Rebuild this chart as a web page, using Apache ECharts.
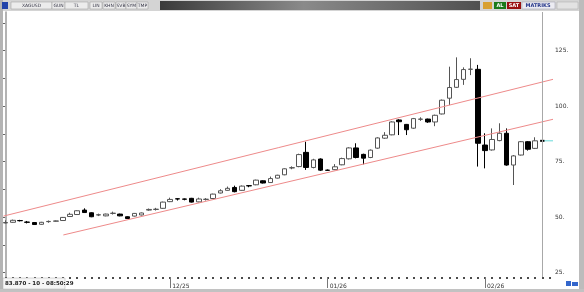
<!DOCTYPE html>
<html><head><meta charset="utf-8">
<script src="https://cdn.jsdelivr.net/npm/echarts@6/dist/echarts.min.js"></script>
<style>html,body{margin:0;padding:0;background:#fff;overflow:hidden}#c{width:584px;height:292px}</style>
</head><body><div id="c"></div>
<script>
const dates = [
 '2025-10-29','2025-10-30','2025-10-31',
 '2025-11-03','2025-11-04','2025-11-05','2025-11-06','2025-11-07','2025-11-10','2025-11-11','2025-11-12','2025-11-13','2025-11-14',
 '2025-11-17','2025-11-18','2025-11-19','2025-11-20','2025-11-21','2025-11-24','2025-11-25','2025-11-26','2025-11-27','2025-11-28',
 '2025-12-01','2025-12-02','2025-12-03','2025-12-04','2025-12-05','2025-12-08','2025-12-09','2025-12-10','2025-12-11','2025-12-12',
 '2025-12-15','2025-12-16','2025-12-17','2025-12-18','2025-12-19','2025-12-22','2025-12-23','2025-12-24','2025-12-26','2025-12-29',
 '2025-12-30','2025-12-31',
 '2026-01-01','2026-01-02','2026-01-05','2026-01-06','2026-01-07','2026-01-08','2026-01-09','2026-01-12','2026-01-13','2026-01-14',
 '2026-01-15','2026-01-16','2026-01-19','2026-01-20','2026-01-21','2026-01-22','2026-01-23','2026-01-26','2026-01-27','2026-01-28',
 '2026-01-29','2026-01-30',
 '2026-02-02','2026-02-03','2026-02-04','2026-02-05','2026-02-06','2026-02-09','2026-02-10','2026-02-11','2026-02-12','2026-02-13'
];
const openV  = [47.4,47.7,48.5,47.8,47.6,46.8,48.0,48.2,48.5,50.3,51.2,53.2,52.0,51.0,50.6,51.7,51.4,50.2,50.5,51.0,
                53.2,53.5,54.0,57.0,58.3,58.2,58.5,56.9,58.0,58.4,60.9,62.1,63.4,62.1,64.2,64.6,66.4,65.6,67.6,69.1,
                72.2,72.8,79.2,72.4,76.2,71.2,71.4,73.6,76.3,81.2,78.3,76.9,81.1,85.6,87.1,93.8,91.8,90.1,94.1,94.2,
                92.9,96.5,103.6,108.5,112.1,116.6,116.6,82.5,80.3,84.5,87.8,73.5,78.0,84.0,81.0];
const closeV = [47.6,48.6,48.4,47.7,46.7,47.7,48.1,48.3,49.9,51.3,52.9,52.1,50.2,51.1,51.4,51.8,50.6,49.4,51.7,51.9,
                53.5,53.6,56.8,58.0,58.2,58.1,56.8,58.2,58.1,60.4,61.9,63.0,61.5,64.0,64.1,66.7,65.4,67.4,68.9,71.8,
                72.3,78.2,72.4,75.8,71.2,71.1,72.7,76.4,81.2,76.9,76.6,80.2,85.7,86.9,92.9,93.0,89.4,94.4,94.2,92.9,
                95.9,102.7,108.4,112.0,116.5,116.7,83.3,80.0,85.0,87.8,73.5,77.6,84.0,80.6,84.4];
const lowV   = [47.2,47.5,48.1,47.2,46.5,46.6,47.5,48.0,48.3,50.1,51.0,51.9,50.0,50.5,50.4,51.2,50.4,49.2,50.3,50.8,
                52.9,53.0,53.8,56.8,57.5,57.6,56.6,56.7,57.5,58.2,60.7,61.9,61.2,61.9,63.5,64.4,65.2,65.4,67.4,68.9,
                71.6,72.5,71.3,72.0,70.8,70.9,71.2,73.4,76.0,76.5,73.8,76.6,80.8,85.3,86.9,87.0,87.0,89.8,93.4,92.5,
                91.0,96.3,100.5,108.2,109.6,114.0,72.8,72.0,80.0,84.2,73.2,64.5,77.8,80.0,80.7];
const highV  = [48.6,48.9,48.8,48.3,47.8,47.9,48.5,48.5,50.1,52.0,53.1,54.0,52.2,51.6,51.6,52.5,51.6,50.4,51.9,52.1,
                53.9,54.2,57.0,58.8,58.5,58.4,58.7,58.8,58.6,60.6,62.6,63.8,64.2,64.3,64.5,66.9,66.6,68.3,69.1,72.0,
                72.9,78.6,84.0,76.3,76.5,71.5,73.9,76.8,81.5,83.3,78.6,80.5,86.0,88.3,93.2,94.1,92.0,94.7,95.0,94.4,
                96.2,103.0,117.8,122.0,117.5,121.6,118.6,87.8,90.0,92.3,90.0,78.0,84.3,84.3,86.0];
const upperChannel = [[-0.3, 50.5], [76.5, 112.1]];
const lowerChannel = [[8.06, 42.0], [76.5, 94.1]];
const lastPrice = 84.4;
const infoText = '83.870 - 10 - 08:50:29';
const toolbarItems = [['XAGUSD',11,41],['GUN',52,13],['TL',65,23],['LIN',90,12],['KHN',103,12],['SVB',116,10],['SYM',126,11],['TMP',137,11]];

const candles = openV.map((o, i) => [o, closeV[i], lowV[i], highV[i]]);
const isMonthStart = (idx, val) => idx > 0 && String(val).slice(5, 7) !== dates[idx - 1].slice(5, 7);

const FONT = 'DejaVu Sans';
const graphic = [
  {type:'rect', shape:{x:0,y:0,width:584,height:11}, style:{fill:'#d4d4d4'}, z:100},
  {type:'rect', shape:{x:2,y:2,width:6,height:7}, style:{fill:'#2244aa'}, z:101},
  {type:'rect', shape:{x:160,y:1,width:320,height:9}, style:{fill:new echarts.graphic.LinearGradient(0,0,1,0,[{offset:0,color:'#3a3a3a'},{offset:0.45,color:'#8a8a8a'},{offset:1,color:'#505050'}])}, z:101},
  {type:'rect', shape:{x:483,y:2,width:9,height:7}, style:{fill:'#d8a030'}, z:101},
  {type:'rect', shape:{x:494,y:2,width:12,height:7}, style:{fill:'#1a7a1a'}, z:101},
  {type:'text', style:{x:500,y:5.5,text:'AL',fill:'#fff',font:'bold 5px '+FONT,align:'center',verticalAlign:'middle'}, z:102},
  {type:'rect', shape:{x:507,y:2,width:14,height:7}, style:{fill:'#9a1010'}, z:101},
  {type:'text', style:{x:514,y:5.5,text:'SAT',fill:'#fff',font:'bold 5px '+FONT,align:'center',verticalAlign:'middle'}, z:102},
  {type:'rect', shape:{x:522,y:2,width:33,height:7}, style:{fill:'#ececf2',stroke:'#9a9aa8',lineWidth:0.5}, z:101},
  {type:'text', style:{x:538,y:5.5,text:'MATRIKS',fill:'#223388',font:'bold 5px '+FONT,align:'center',verticalAlign:'middle'}, z:102},
  {type:'rect', shape:{x:557,y:2,width:21,height:7}, style:{fill:'#e2e2e2',stroke:'#aaa',lineWidth:0.5}, z:101},
  {type:'rect', shape:{x:0,y:0,width:3,height:292}, style:{fill:'#b4b4b4'}, z:100},
  {type:'rect', shape:{x:579,y:0,width:5,height:292}, style:{fill:'#bcbcbc'}, z:100},
  {type:'rect', shape:{x:0,y:289,width:584,height:3}, style:{fill:'#c2c2c2'}, z:100},
  {type:'rect', shape:{x:3,y:278,width:62,height:11}, style:{fill:'#f6f6f6',stroke:'#b0b0b0',lineWidth:0.5}, z:100},
  {type:'text', style:{x:5,y:283.5,text:infoText,fill:'#222',font:'bold 5.5px '+FONT,verticalAlign:'middle'}, z:101},
  {type:'rect', shape:{x:566,y:281,width:5,height:5}, style:{fill:'#3366cc'}, z:101},
  {type:'rect', shape:{x:572,y:282,width:6,height:4}, style:{fill:'#3366cc'}, z:101}
];
toolbarItems.forEach(([t, x, w]) => {
  graphic.push({type:'rect', shape:{x:x,y:2,width:w,height:7}, style:{fill:'#ececec',stroke:'#9a9a9a',lineWidth:0.5}, z:101});
  graphic.push({type:'text', style:{x:x + w/2,y:5.5,text:t,fill:'#334',font:'4.5px '+FONT,align:'center',verticalAlign:'middle'}, z:102});
});

const chart = echarts.init(document.getElementById('c'), null, {renderer:'canvas'});
chart.setOption({
  animation: false,
  backgroundColor: '#ffffff',
  grid: [
    {left: 2.1, right: 31, top: 12, bottom: 15, outerBoundsMode: 'none', containLabel: false},
    {left: 2.1, right: 31, top: 22.95, bottom: 19.3, outerBoundsMode: 'none', containLabel: false}
  ],
  xAxis: [
    {type:'category', gridIndex:0, data:dates, boundaryGap:true, position:'bottom',
     axisLine:{show:false}, axisLabel:{show:false}, splitLine:{show:false},
     axisTick:{show:true, interval:0, alignWithLabel:true, length:2, lineStyle:{color:'#111', width:1.5}}},
    {type:'value', gridIndex:0, min:-0.5, max:76.5, show:false, position:'top'},
    {type:'category', gridIndex:0, data:dates, boundaryGap:true, position:'bottom',
     axisLine:{show:false}, splitLine:{show:false},
     axisTick:{show:true, interval:isMonthStart, alignWithLabel:true, length:11, lineStyle:{color:'#777', width:1}},
     axisLabel:{show:true, interval:isMonthStart, margin:6, align:'left', padding:[0,0,0,2],
       fontSize:6, fontFamily:FONT, color:'#333',
       formatter: v => v.slice(5,7) + '/' + v.slice(2,4)}},
    {type:'value', gridIndex:1, show:false}
  ],
  yAxis: [
    {type:'value', gridIndex:0, position:'right', min:23.06, max:142.43, scale:true,
     axisLine:{show:true, lineStyle:{color:'#9a9a9a', width:1.5}},
     axisTick:{show:false}, axisLabel:{show:false}, splitLine:{show:false}},
    {type:'value', gridIndex:1, position:'right', min:25, max:137.5, interval:12.5,
     axisLine:{show:false}, splitLine:{show:false},
     axisTick:{show:true, length:3, lineStyle:{color:'#666', width:1}},
     axisLabel:{show:true, margin:2, fontSize:6, fontFamily:FONT, color:'#333',
       formatter: v => (v % 25 === 0 && v <= 125) ? (v + '.') : ''}}
  ],
  graphic: graphic,
  series: [
    {type:'candlestick', xAxisIndex:0, yAxisIndex:0, data:candles, barWidth:5,
     itemStyle:{color:'#ffffff', color0:'#000000', borderColor:'#555555', borderColor0:'#000000', borderWidth:1},
     markLine:{silent:true, symbol:'none', label:{show:false},
       lineStyle:{color:'#a8a8a8', type:'solid', width:1},
       data:[{xAxis: dates[75]}]}},
    {type:'line', xAxisIndex:1, yAxisIndex:0, data:upperChannel, showSymbol:false, silent:true,
     lineStyle:{color:'#ee8a8a', width:1}},
    {type:'line', xAxisIndex:1, yAxisIndex:0, data:lowerChannel, showSymbol:false, silent:true,
     lineStyle:{color:'#ee8a8a', width:1}},
    {type:'line', xAxisIndex:1, yAxisIndex:0, data:[[75, lastPrice],[76.5, lastPrice]], showSymbol:false, silent:true,
     lineStyle:{color:'#66dada', width:1}},
    {type:'line', xAxisIndex:1, yAxisIndex:0, data:[[74.7, lastPrice],[75.3, lastPrice]], showSymbol:false, silent:true,
     lineStyle:{color:'#000', width:2}}
  ]
});
</script></body></html>
